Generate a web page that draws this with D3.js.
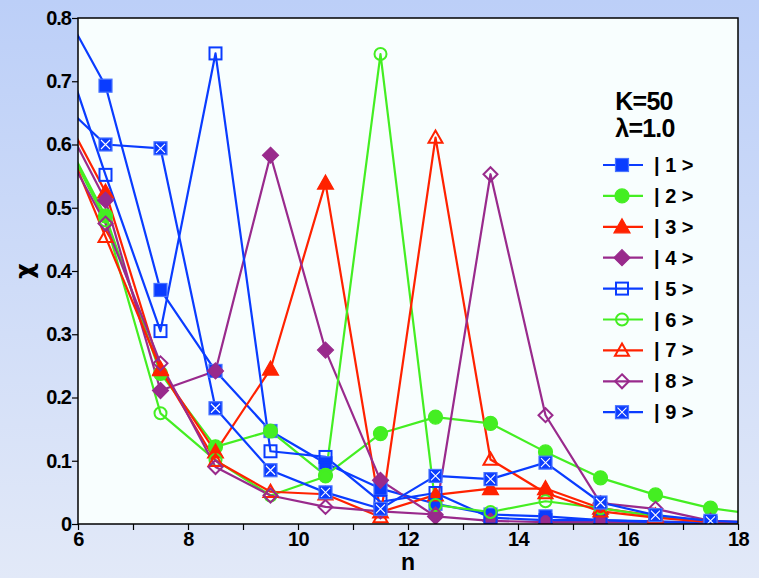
<!DOCTYPE html>
<html><head><meta charset="utf-8">
<script src="https://cdn.jsdelivr.net/npm/d3@7"></script>
<style>html,body{margin:0;padding:0;}svg{display:block;}</style>
</head><body>
<script>
// ---- data ----
const nValues = [5.5, 6.5, 7.5, 8.5, 9.5, 10.5, 11.5, 12.5, 13.5, 14.5, 15.5, 16.5, 17.5, 18.5];
const s1 = [0.851, 0.693, 0.370, 0.242, 0.147, 0.096, 0.056, 0.032, 0.015, 0.012, 0.006, 0.004, 0.002, 0.001];
const s2 = [0.653, 0.487, 0.238, 0.122, 0.147, 0.077, 0.143, 0.169, 0.159, 0.114, 0.073, 0.046, 0.025, 0.013];
const s3 = [0.689, 0.525, 0.244, 0.114, 0.245, 0.539, 0.019, 0.046, 0.056, 0.056, 0.025, 0.013, 0.004, 0.002];
const s4 = [0.680, 0.512, 0.211, 0.242, 0.583, 0.275, 0.069, 0.012, 0.005, 0.003, 0.003, 0.003, 0.002, 0.001];
const s5 = [0.810, 0.552, 0.305, 0.744, 0.115, 0.106, 0.035, 0.049, 0.010, 0.006, 0.006, 0.003, 0.002, 0.001];
const s6 = [0.650, 0.480, 0.175, 0.101, 0.045, 0.075, 0.743, 0.030, 0.019, 0.036, 0.025, 0.012, 0.003, 0.002];
const s7 = [0.664, 0.454, 0.245, 0.100, 0.051, 0.047, 0.011, 0.611, 0.102, 0.049, 0.020, 0.010, 0.003, 0.002];
const s8 = [0.635, 0.475, 0.254, 0.090, 0.045, 0.027, 0.020, 0.015, 0.553, 0.172, 0.033, 0.024, 0.005, 0.002];
const s9 = [0.682, 0.600, 0.594, 0.183, 0.085, 0.050, 0.024, 0.076, 0.071, 0.097, 0.034, 0.014, 0.005, 0.002];
const seriesNames = ["| 1 >", "| 2 >", "| 3 >", "| 4 >", "| 5 >", "| 6 >", "| 7 >", "| 8 >", "| 9 >"];
const seriesValues = [s1, s2, s3, s4, s5, s6, s7, s8, s9];
const seriesColors = ["#0a3cff", "#44ee22", "#ff2200", "#992a8c", "#0a3cff", "#44ee22", "#ff2200", "#992a8c", "#0a3cff"];
const seriesShapes = ["square", "circle", "triangle", "diamond", "square", "circle", "triangle", "diamond", "xsquare"];
const seriesFilled = [true, true, true, true, false, false, false, false, true];
const xTicks = [6, 8, 10, 12, 14, 16, 18];
const yTicks = [0, 0.1, 0.2, 0.3, 0.4, 0.5, 0.6, 0.7, 0.8];
const annot = ["K=50", "λ=1.0"];

// ---- layout ----
const W = 759, H = 578;
const L = 78, R = 738, T = 18, B = 524;
const x = d3.scaleLinear().domain([6, 18]).range([L, R]);
const y = d3.scaleLinear().domain([0, 0.8]).range([B, T]);

const svg = d3.select("body").append("svg").attr("width", W).attr("height", H);
const defs = svg.append("defs");
const grad = defs.append("linearGradient").attr("id", "bg").attr("x1", 0).attr("y1", 0).attr("x2", 0).attr("y2", 1);
grad.append("stop").attr("offset", "0%").attr("stop-color", "#bccff8");
grad.append("stop").attr("offset", "100%").attr("stop-color", "#e2e9f8");
defs.append("clipPath").attr("id", "clip").append("rect").attr("x", L).attr("y", T).attr("width", R - L).attr("height", B - T);

svg.append("rect").attr("width", W).attr("height", H).attr("fill", "url(#bg)");
svg.append("rect").attr("x", L).attr("y", T).attr("width", R - L).attr("height", B - T).attr("fill", "#f8fefe");

const font = "'Liberation Sans', Arial, Helvetica, sans-serif";

// axes
const xAxisG = svg.append("g").attr("transform", `translate(0,${B})`);
xAxisG.call(d3.axisBottom(x).tickValues(d3.range(6, 18.01, 0.5)).tickSize(4).tickFormat(""));
xAxisG.call(d3.axisBottom(x).tickValues(d3.range(6, 18.01, 1)).tickSize(6).tickFormat(""));
xAxisG.append("g").call(d3.axisBottom(x).tickValues(xTicks).tickSize(0).tickPadding(8).tickFormat(d3.format("d")));
xAxisG.selectAll(".domain").remove();
xAxisG.selectAll("line").attr("stroke", "#000").attr("stroke-width", 1.2);
xAxisG.selectAll("text").attr("font-family", font).attr("font-weight", "bold").attr("font-size", 20).attr("fill", "#000").attr("letter-spacing", "-0.5px");

const yAxisG = svg.append("g").attr("transform", `translate(${L},0)`);
yAxisG.call(d3.axisLeft(y).tickValues(d3.range(0, 0.801, 0.02)).tickSize(4).tickFormat(""));
yAxisG.call(d3.axisLeft(y).tickValues(yTicks).tickSize(6).tickFormat(""));
yAxisG.append("g").call(d3.axisLeft(y).tickValues(yTicks).tickSize(0).tickPadding(7).tickFormat(d => d === 0 ? "0" : d3.format(".1f")(d)));
yAxisG.selectAll(".domain").remove();
yAxisG.selectAll("line").attr("stroke", "#000").attr("stroke-width", 1.2);
yAxisG.selectAll("text").attr("font-family", font).attr("font-weight", "bold").attr("font-size", 20).attr("fill", "#000").attr("letter-spacing", "-1px");

// axis titles
svg.append("text").attr("x", (L + R) / 2).attr("y", 570).attr("text-anchor", "middle")
  .attr("font-family", font).attr("font-weight", "bold").attr("font-size", 23).text("n");
svg.append("text").attr("transform", "translate(33,271) rotate(-90)").attr("text-anchor", "middle")
  .attr("font-family", "'DejaVu Sans', sans-serif").attr("font-weight", "bold").attr("font-size", 24).text("χ");

// marker drawing
function drawMarker(g, shape, filled, color, cx, cy) {
  const fill = filled ? color : "none";
  const sw = filled ? 1.2 : 2;
  const stroke = filled ? (color === "#0a3cff" ? "#4a74ff" : color) : color;
  if (shape === "square" || shape === "xsquare") {
    const s = filled ? 13 : 12;
    g.append("rect").attr("x", cx - s / 2).attr("y", cy - s / 2).attr("width", s).attr("height", s)
      .attr("fill", fill).attr("stroke", stroke).attr("stroke-width", sw);
    if (shape === "xsquare") {
      const k = 4.5;
      g.append("path").attr("d", `M${cx - k},${cy - k}L${cx + k},${cy + k}M${cx + k},${cy - k}L${cx - k},${cy + k}`)
        .attr("stroke", "#fff").attr("stroke-width", 1.1).attr("fill", "none");
    }
  } else if (shape === "circle") {
    g.append("circle").attr("cx", cx).attr("cy", cy).attr("r", filled ? 7 : 6)
      .attr("fill", fill).attr("stroke", stroke).attr("stroke-width", sw);
  } else if (shape === "triangle") {
    const h = filled ? 8 : 7;
    g.append("path").attr("d", `M${cx},${cy - h}L${cx + h},${cy + h * 0.75}L${cx - h},${cy + h * 0.75}Z`)
      .attr("fill", fill).attr("stroke", stroke).attr("stroke-width", sw).attr("stroke-linejoin", "miter");
  } else if (shape === "diamond") {
    const h = filled ? 8 : 7;
    g.append("path").attr("d", `M${cx},${cy - h}L${cx + h},${cy}L${cx},${cy + h}L${cx - h},${cy}Z`)
      .attr("fill", fill).attr("stroke", stroke).attr("stroke-width", sw);
  }
}

// series
const line = d3.line().x(d => x(d[0])).y(d => y(d[1]));
const plotG = svg.append("g").attr("clip-path", "url(#clip)");
seriesValues.forEach((vals, i) => {
  const pts = nValues.map((n, j) => [n, vals[j]]);
  plotG.append("path").datum(pts).attr("d", line).attr("fill", "none")
    .attr("stroke", seriesColors[i]).attr("stroke-width", 2.2).attr("stroke-linejoin", "round");
});
seriesValues.forEach((vals, i) => {
  const mg = plotG.append("g");
  nValues.forEach((n, j) => {
    if (n < 6 || n > 18) return;
    drawMarker(mg, seriesShapes[i], seriesFilled[i], seriesColors[i], x(n), y(vals[j]));
  });
});

// frame
svg.append("rect").attr("x", L).attr("y", T).attr("width", R - L).attr("height", B - T)
  .attr("fill", "none").attr("stroke", "#000").attr("stroke-width", 1.5);

// annotation + legend
svg.append("text").attr("x", 644).attr("y", 110).attr("text-anchor", "middle")
  .attr("font-family", font).attr("font-weight", "bold").attr("font-size", 25).attr("letter-spacing", "-0.8px").text(annot[0]);
svg.append("text").attr("x", 645).attr("y", 137).attr("text-anchor", "middle")
  .attr("font-family", font).attr("font-weight", "bold").attr("font-size", 25).attr("letter-spacing", "-0.8px").text(annot[1]);

const legY0 = 165, legDy = 30.9;
seriesNames.forEach((name, i) => {
  const ly = legY0 + i * legDy;
  const lg = svg.append("g");
  lg.append("line").attr("x1", 603).attr("x2", 643).attr("y1", ly).attr("y2", ly)
    .attr("stroke", seriesColors[i]).attr("stroke-width", 2.2);
  drawMarker(lg, seriesShapes[i], seriesFilled[i], seriesColors[i], 622, ly);
  lg.append("text").attr("x", 654).attr("y", ly + 7).attr("font-family", font).attr("font-weight", "bold")
    .attr("font-size", 20).attr("xml:space", "preserve").text(name);
});
</script>
</body></html>
